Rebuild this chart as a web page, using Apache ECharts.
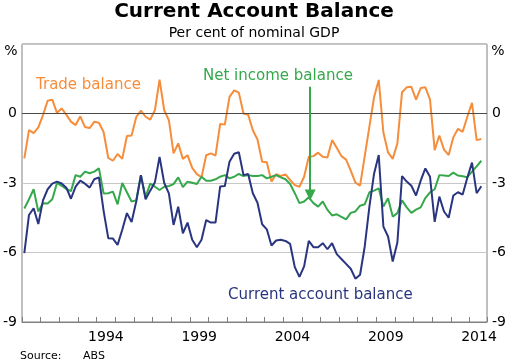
<!DOCTYPE html>
<html>
<head>
<meta charset="utf-8">
<script src="https://cdn.jsdelivr.net/npm/echarts@6/dist/echarts.min.js"></script>
<style>
html,body{margin:0;padding:0;background:#fff;}
#c{width:513px;height:364px;}
</style>
</head>
<body>
<div id="c"></div>
<script>
// Quarterly data, March quarter 1990 onwards (per cent of nominal GDP)
const startYear = 1990;
const tradeBalance = [
 -1.94,-0.72,-0.85,-0.6,-0.07,0.55,0.6,0.03,0.22,-0.05,
 -0.35,-0.5,-0.12,-0.58,-0.63,-0.36,-0.4,-0.8,-1.92,-2.04,
 -1.75,-1.96,-0.97,-0.95,-0.15,0.12,-0.14,-0.26,0.14,1.46,
 0.14,-0.29,-1.72,-1.29,-1.96,-1.8,-2.35,-2.62,-2.75,-1.8,
 -1.72,-1.82,-0.45,-0.48,0.72,1.0,0.9,0.0,-0.05,-0.72,
 -1.12,-2.08,-2.1,-2.94,-2.62,-2.7,-2.63,-2.87,-3.09,-3.16,
 -2.73,-1.87,-1.84,-1.69,-1.87,-1.9,-1.15,-1.48,-1.84,-1.99,
 -2.47,-2.98,-3.11,-1.84,-0.57,0.7,1.45,-0.82,-1.68,-1.96,
 -1.29,0.92,1.13,1.15,0.6,1.1,1.13,0.6,-1.58,-0.95,
 -1.56,-1.79,-1.03,-0.66,-0.79,-0.14,0.46,-1.15,-1.1
];
const netIncomeBalance = [
 -4.1,-3.7,-3.27,-4.23,-3.87,-3.88,-3.7,-3.0,-3.12,-3.25,
 -3.35,-2.66,-2.73,-2.51,-2.58,-2.51,-2.37,-3.45,-3.44,-3.37,
 -3.92,-3.0,-3.4,-3.8,-3.75,-2.66,-3.6,-3.03,-3.16,-3.3,
 -3.16,-3.13,-3.05,-2.76,-3.18,-2.94,-2.99,-3.04,-2.73,-2.9,
 -2.9,-2.84,-2.73,-2.66,-2.8,-2.73,-2.61,-2.7,-2.66,-2.7,
 -2.7,-2.66,-2.8,-2.73,-2.66,-2.76,-2.84,-3.04,-3.44,-3.87,
 -3.8,-3.62,-3.87,-4.02,-3.8,-4.16,-4.4,-4.35,-4.46,-4.57,
 -4.29,-4.23,-3.98,-3.92,-3.4,-3.33,-3.23,-4.02,-3.66,-4.45,
 -4.3,-3.75,-4.05,-4.29,-4.15,-4.05,-3.65,-3.4,-3.27,-2.66,
 -2.68,-2.7,-2.55,-2.68,-2.71,-2.75,-2.51,-2.28,-2.04
];
const currentAccountBalance = [
 -6.03,-4.38,-4.09,-4.77,-3.75,-3.27,-3.03,-2.94,-3.02,-3.2,
 -3.68,-3.16,-2.9,-3.03,-3.2,-2.84,-2.76,-4.2,-5.38,-5.4,
 -5.67,-5.02,-4.3,-4.68,-3.8,-2.66,-3.7,-3.33,-2.97,-1.87,
 -3.0,-3.45,-4.81,-4.02,-5.17,-4.71,-5.45,-5.77,-5.45,-4.6,
 -4.71,-4.71,-3.15,-3.13,-2.08,-1.74,-1.67,-2.66,-2.61,-3.44,
 -3.85,-4.78,-5.0,-5.7,-5.48,-5.45,-5.5,-5.63,-6.63,-7.05,
 -6.6,-5.5,-5.77,-5.77,-5.6,-5.86,-5.6,-6.07,-6.28,-6.49,
 -6.7,-7.13,-6.96,-5.74,-4.02,-2.6,-1.79,-4.88,-5.31,-6.39,
 -5.57,-2.7,-2.94,-3.12,-3.54,-2.9,-2.37,-2.73,-4.68,-3.59,
 -4.23,-4.5,-3.54,-3.4,-3.5,-2.77,-2.12,-3.44,-3.14
];
const yearLabels = [1994, 1999, 2004, 2009, 2014];
const yTicks = { min: -9, max: 3, interval: 3 };
const arrowAnnotation = { x: 2005.45, from: 1.15, to: -3.52 };

const ORANGE = '#F68D3B', GREEN = '#35A84C', NAVY = '#2A3580';
const FONT = 'DejaVu Sans';

// quarter mid-points
const qx = i => startYear + (i + 0.5) / 4;
const toPairs = arr => arr.map((v, i) => [qx(i), v]);

const chart = echarts.init(document.getElementById('c'), null, {renderer: 'canvas'});
const xMin = 1990, xMax = 2014.93;

const yLabelFmt = v => (v === yTicks.max ? '' : String(v));

const option = {
  animation: false,
  backgroundColor: '#fff',
  grid: { left: 22, right: 26, top: 44, bottom: 42, show: true, borderColor: '#808080', borderWidth: 1, outerBoundsMode: 'none', containLabel: false },
  xAxis: [
    {
      type: 'value', min: xMin, max: xMax, interval: 1, position: 'bottom',
      axisLine: { show: true, onZero: false, lineStyle: { color: '#808080', width: 1 } },
      axisTick: { show: true, inside: true, length: 5, lineStyle: { color: '#808080', width: 1 } },
      axisLabel: { show: false },
      splitLine: { show: false }
    },
    {
      type: 'value', min: xMin, max: xMax, interval: 0.5, position: 'bottom',
      axisLine: { show: false, onZero: false },
      axisTick: { show: false },
      splitLine: { show: false },
      axisLabel: {
        show: true, margin: 8, color: '#000', fontFamily: FONT, fontSize: 14,
        showMinLabel: true, showMaxLabel: true,
        formatter: v => {
          const f = Math.floor(v);
          if (Math.abs(v - f - 0.5) < 1e-6 && yearLabels.indexOf(f) >= 0) return String(f);
          return '';
        }
      }
    }
  ],
  yAxis: [
    {
      type: 'value', min: yTicks.min, max: yTicks.max, interval: yTicks.interval, position: 'left',
      axisLine: { show: false }, axisTick: { show: false },
      axisLabel: { margin: 5, color: '#000', fontFamily: FONT, fontSize: 14, formatter: yLabelFmt },
      splitLine: { show: true, lineStyle: { color: '#c8c8c8', width: 1 } }
    },
    {
      type: 'value', min: yTicks.min, max: yTicks.max, interval: yTicks.interval, position: 'right',
      axisLine: { show: false }, axisTick: { show: false },
      axisLabel: { margin: 5, color: '#000', fontFamily: FONT, fontSize: 14, formatter: yLabelFmt },
      splitLine: { show: false }
    }
  ],
  series: [
    {
      name: 'Trade balance', type: 'line', data: toPairs(tradeBalance),
      showSymbol: false, symbol: 'none', lineStyle: { color: ORANGE, width: 2 }, itemStyle: { color: ORANGE },
      z: 3,
      markLine: {
        silent: true, symbol: ['none', 'none'], label: { show: false },
        lineStyle: { color: '#4a4a4a', width: 1, type: 'solid' },
        data: [{ yAxis: 0 }]
      }
    },
    {
      name: 'Net income balance', type: 'line', data: toPairs(netIncomeBalance),
      showSymbol: false, symbol: 'none', lineStyle: { color: GREEN, width: 2 }, itemStyle: { color: GREEN },
      z: 4,
      markLine: {
        silent: true, symbol: ['none', 'triangle'], symbolSize: 11, label: { show: false },
        lineStyle: { color: GREEN, width: 2, type: 'solid' },
        itemStyle: { color: GREEN },
        data: [[{ coord: [arrowAnnotation.x, arrowAnnotation.from] }, { coord: [arrowAnnotation.x, arrowAnnotation.to] }]]
      }
    },
    {
      name: 'Current account balance', type: 'line', data: toPairs(currentAccountBalance),
      showSymbol: false, symbol: 'none', lineStyle: { color: NAVY, width: 2 }, itemStyle: { color: NAVY },
      z: 5
    }
  ],
  graphic: [
    { type: 'text', x: 254, y: 12, style: { text: 'Current Account Balance', font: 'bold 20px "DejaVu Sans"', fill: '#000', align: 'center', verticalAlign: 'middle', textAlign: 'center', textVerticalAlign: 'middle' } },
    { type: 'text', x: 254, y: 33, style: { text: 'Per cent of nominal GDP', font: '14px "DejaVu Sans"', fill: '#000', align: 'center', verticalAlign: 'middle', textAlign: 'center', textVerticalAlign: 'middle' } },
    { type: 'text', x: 11, y: 51, style: { text: '%', font: '14px "DejaVu Sans"', fill: '#000', align: 'center', verticalAlign: 'middle', textAlign: 'center', textVerticalAlign: 'middle' } },
    { type: 'text', x: 498, y: 51, style: { text: '%', font: '14px "DejaVu Sans"', fill: '#000', align: 'center', verticalAlign: 'middle', textAlign: 'center', textVerticalAlign: 'middle' } },
    { type: 'text', x: 36, y: 85, style: { text: 'Trade balance', font: '15px "DejaVu Sans"', fill: ORANGE, align: 'left', verticalAlign: 'middle', textAlign: 'left', textVerticalAlign: 'middle' } },
    { type: 'text', x: 203, y: 76, style: { text: 'Net income balance', font: '15px "DejaVu Sans"', fill: GREEN, align: 'left', verticalAlign: 'middle', textAlign: 'left', textVerticalAlign: 'middle' } },
    { type: 'text', x: 228, y: 295, style: { text: 'Current account balance', font: '15px "DejaVu Sans"', fill: NAVY, align: 'left', verticalAlign: 'middle', textAlign: 'left', textVerticalAlign: 'middle' } },
    { type: 'text', x: 20, y: 356, style: { text: 'Source:', font: '11px "DejaVu Sans"', fill: '#000', align: 'left', verticalAlign: 'middle', textAlign: 'left', textVerticalAlign: 'middle' } },
    { type: 'text', x: 83, y: 356, style: { text: 'ABS', font: '11px "DejaVu Sans"', fill: '#000', align: 'left', verticalAlign: 'middle', textAlign: 'left', textVerticalAlign: 'middle' } }
  ]
};
chart.setOption(option);
</script>
</body>
</html>
